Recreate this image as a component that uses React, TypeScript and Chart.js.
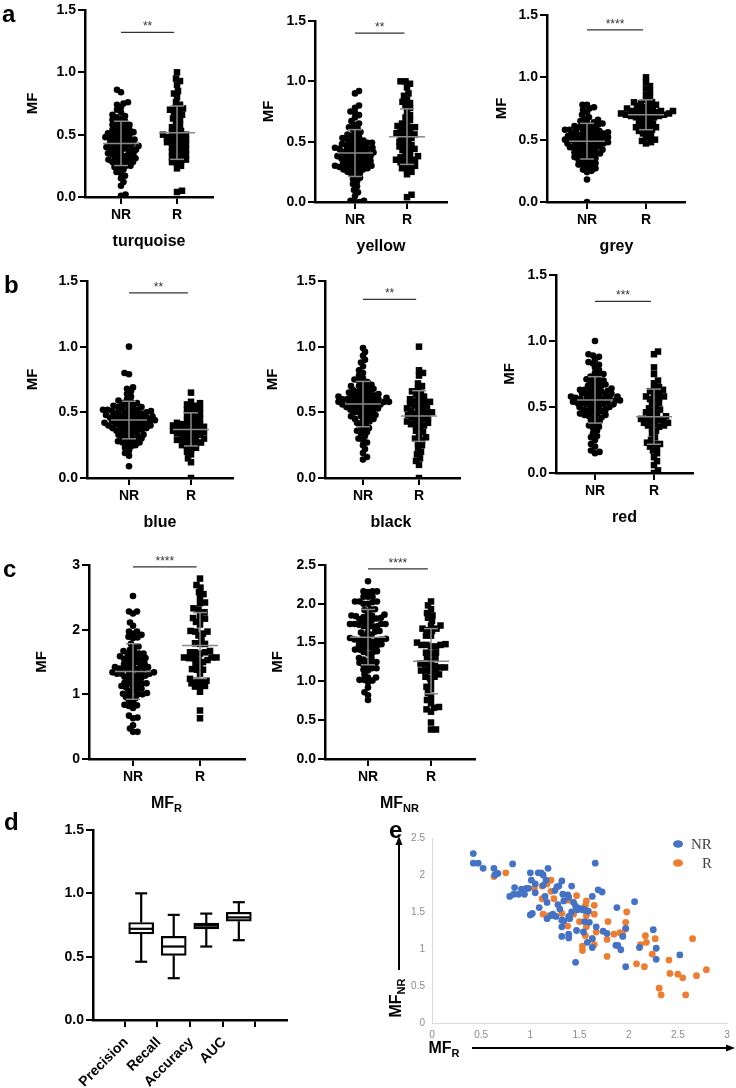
import React, { useEffect, useRef } from "react";
import { Chart, registerables } from "chart.js";

Chart.register(...registerables);
Chart.defaults.color = "#000";

const SANS = "'Liberation Sans', Arial, sans-serif";
const SERIF = "'Liberation Serif', 'Times New Roman', serif";

// ---- module-fraction values per colour module (NR = non-responders, R = responders) ----
const turquoiseNR = [0.01, 0.02, 0.09, 0.12, 0.15, 0.17, 0.19, 0.2, 0.22, 0.23, 0.24, 0.25, 0.25, 0.26, 0.27, 0.28, 0.28, 0.29, 0.29, 0.3, 0.3, 0.31, 0.31, 0.32, 0.33, 0.33, 0.34, 0.34, 0.35, 0.35, 0.36, 0.37, 0.37, 0.38, 0.38, 0.39, 0.39, 0.4, 0.4, 0.41, 0.41, 0.42, 0.42, 0.43, 0.43, 0.44, 0.45, 0.45, 0.46, 0.46, 0.47, 0.47, 0.48, 0.48, 0.49, 0.5, 0.5, 0.51, 0.51, 0.52, 0.52, 0.53, 0.54, 0.54, 0.55, 0.56, 0.57, 0.58, 0.58, 0.59, 0.6, 0.61, 0.62, 0.63, 0.64, 0.65, 0.66, 0.68, 0.7, 0.72, 0.74, 0.75, 0.76, 0.84, 0.86];
const turquoiseR = [0.04, 0.05, 0.23, 0.25, 0.27, 0.28, 0.29, 0.3, 0.31, 0.32, 0.33, 0.34, 0.35, 0.36, 0.37, 0.38, 0.39, 0.4, 0.41, 0.42, 0.43, 0.44, 0.44, 0.45, 0.46, 0.47, 0.48, 0.48, 0.49, 0.5, 0.5, 0.51, 0.52, 0.53, 0.55, 0.56, 0.58, 0.6, 0.62, 0.63, 0.65, 0.66, 0.68, 0.69, 0.7, 0.71, 0.72, 0.74, 0.76, 0.8, 0.83, 0.85, 0.9, 0.93, 0.95, 1.0];

const yellowNR = [0.0, 0.0, 0.01, 0.01, 0.05, 0.08, 0.1, 0.13, 0.15, 0.17, 0.19, 0.2, 0.22, 0.23, 0.24, 0.25, 0.26, 0.27, 0.28, 0.28, 0.29, 0.3, 0.3, 0.31, 0.32, 0.32, 0.33, 0.34, 0.35, 0.35, 0.36, 0.37, 0.38, 0.38, 0.39, 0.4, 0.4, 0.41, 0.42, 0.42, 0.43, 0.44, 0.44, 0.45, 0.46, 0.46, 0.47, 0.48, 0.48, 0.49, 0.5, 0.5, 0.51, 0.52, 0.52, 0.53, 0.54, 0.55, 0.56, 0.57, 0.58, 0.6, 0.61, 0.62, 0.64, 0.65, 0.67, 0.7, 0.72, 0.74, 0.75, 0.78, 0.8, 0.9, 0.92, 0.29, 0.33, 0.36, 0.41, 0.45, 0.39, 0.27, 0.47, 0.31, 0.43, 0.35, 0.49, 0.3, 0.38, 0.44];
const yellowR = [0.04, 0.06, 0.23, 0.25, 0.27, 0.28, 0.3, 0.3, 0.32, 0.33, 0.34, 0.35, 0.35, 0.36, 0.37, 0.38, 0.38, 0.4, 0.42, 0.43, 0.44, 0.45, 0.46, 0.47, 0.48, 0.5, 0.5, 0.52, 0.53, 0.55, 0.55, 0.56, 0.57, 0.58, 0.6, 0.6, 0.62, 0.62, 0.63, 0.65, 0.65, 0.68, 0.7, 0.72, 0.75, 0.78, 0.8, 0.82, 0.83, 0.85, 0.88, 0.9, 0.95, 0.98, 1.0, 1.0];

const greyNR = [0.0, 0.18, 0.24, 0.25, 0.26, 0.28, 0.29, 0.3, 0.31, 0.32, 0.33, 0.34, 0.35, 0.36, 0.37, 0.38, 0.38, 0.39, 0.4, 0.4, 0.41, 0.42, 0.42, 0.43, 0.44, 0.44, 0.45, 0.46, 0.46, 0.47, 0.47, 0.48, 0.48, 0.49, 0.49, 0.5, 0.5, 0.5, 0.51, 0.51, 0.52, 0.52, 0.53, 0.53, 0.54, 0.54, 0.55, 0.55, 0.56, 0.56, 0.57, 0.57, 0.58, 0.58, 0.59, 0.6, 0.6, 0.61, 0.62, 0.62, 0.63, 0.64, 0.65, 0.66, 0.67, 0.68, 0.7, 0.72, 0.74, 0.75, 0.76, 0.78, 0.78, 0.45, 0.48, 0.52, 0.36, 0.42, 0.55, 0.5, 0.47, 0.53, 0.58, 0.44, 0.39, 0.61, 0.64, 0.34, 0.27, 0.3, 0.57];
const greyR = [0.47, 0.48, 0.49, 0.5, 0.52, 0.53, 0.55, 0.56, 0.57, 0.58, 0.59, 0.6, 0.61, 0.62, 0.63, 0.64, 0.65, 0.66, 0.67, 0.68, 0.68, 0.69, 0.69, 0.7, 0.7, 0.7, 0.71, 0.71, 0.72, 0.72, 0.72, 0.73, 0.73, 0.74, 0.74, 0.75, 0.75, 0.76, 0.77, 0.78, 0.78, 0.79, 0.8, 0.8, 0.82, 0.84, 0.86, 0.88, 0.91, 0.93, 0.96, 1.0, 0.71, 0.69, 0.73, 0.6];

const blueNR = [0.09, 0.17, 0.19, 0.21, 0.23, 0.24, 0.25, 0.26, 0.27, 0.28, 0.29, 0.3, 0.31, 0.32, 0.33, 0.34, 0.35, 0.35, 0.36, 0.37, 0.38, 0.38, 0.39, 0.4, 0.4, 0.41, 0.41, 0.42, 0.42, 0.43, 0.43, 0.44, 0.44, 0.45, 0.45, 0.46, 0.46, 0.47, 0.47, 0.48, 0.48, 0.49, 0.49, 0.5, 0.5, 0.51, 0.51, 0.52, 0.52, 0.53, 0.53, 0.54, 0.55, 0.55, 0.56, 0.57, 0.58, 0.59, 0.6, 0.62, 0.64, 0.66, 0.68, 0.69, 0.79, 0.8, 1.0, 0.3, 0.33, 0.37, 0.44, 0.46, 0.5, 0.42, 0.39, 0.28, 0.36, 0.54, 0.47, 0.41, 0.57, 0.32, 0.48, 0.45, 0.27, 0.51, 0.43, 0.38, 0.52, 0.4];
const blueR = [0.0, 0.12, 0.15, 0.18, 0.2, 0.22, 0.23, 0.24, 0.25, 0.26, 0.27, 0.28, 0.29, 0.3, 0.3, 0.31, 0.32, 0.33, 0.33, 0.34, 0.35, 0.35, 0.36, 0.36, 0.37, 0.37, 0.38, 0.38, 0.39, 0.39, 0.4, 0.4, 0.41, 0.42, 0.42, 0.43, 0.44, 0.45, 0.46, 0.47, 0.48, 0.49, 0.5, 0.51, 0.52, 0.53, 0.54, 0.55, 0.56, 0.57, 0.58, 0.65, 0.34, 0.29, 0.41, 0.27];

const blackNR = [0.14, 0.16, 0.19, 0.22, 0.25, 0.27, 0.29, 0.3, 0.32, 0.34, 0.35, 0.37, 0.38, 0.4, 0.41, 0.42, 0.43, 0.44, 0.45, 0.46, 0.47, 0.48, 0.49, 0.5, 0.5, 0.51, 0.52, 0.52, 0.53, 0.54, 0.54, 0.55, 0.55, 0.56, 0.56, 0.57, 0.57, 0.58, 0.58, 0.58, 0.59, 0.59, 0.6, 0.6, 0.61, 0.61, 0.62, 0.62, 0.63, 0.63, 0.64, 0.64, 0.65, 0.66, 0.66, 0.67, 0.68, 0.69, 0.7, 0.7, 0.71, 0.72, 0.73, 0.74, 0.75, 0.76, 0.78, 0.8, 0.82, 0.85, 0.88, 0.9, 0.93, 0.96, 0.99, 0.57, 0.6, 0.55, 0.48, 0.62, 0.65, 0.52, 0.45, 0.58, 0.68, 0.36, 0.59, 0.53, 0.61, 0.56, 0.47];
const blackR = [0.0, 0.1, 0.13, 0.15, 0.18, 0.2, 0.23, 0.25, 0.27, 0.29, 0.3, 0.31, 0.33, 0.35, 0.36, 0.38, 0.4, 0.4, 0.41, 0.42, 0.43, 0.44, 0.45, 0.46, 0.47, 0.48, 0.49, 0.5, 0.5, 0.51, 0.52, 0.53, 0.54, 0.55, 0.56, 0.57, 0.58, 0.59, 0.6, 0.61, 0.62, 0.64, 0.65, 0.66, 0.68, 0.7, 0.72, 0.78, 0.8, 0.82, 1.0, 0.42, 0.5, 0.58, 0.46, 0.55];

const redNR = [0.15, 0.16, 0.17, 0.2, 0.22, 0.25, 0.28, 0.3, 0.32, 0.34, 0.36, 0.38, 0.39, 0.4, 0.42, 0.43, 0.44, 0.45, 0.46, 0.47, 0.48, 0.49, 0.5, 0.5, 0.51, 0.52, 0.52, 0.53, 0.53, 0.54, 0.54, 0.55, 0.55, 0.56, 0.56, 0.57, 0.57, 0.58, 0.58, 0.59, 0.59, 0.6, 0.6, 0.61, 0.62, 0.62, 0.63, 0.64, 0.64, 0.65, 0.66, 0.67, 0.68, 0.69, 0.7, 0.71, 0.72, 0.73, 0.74, 0.75, 0.76, 0.78, 0.8, 0.82, 0.83, 0.84, 0.86, 0.88, 0.89, 0.9, 1.0, 0.55, 0.5, 0.48, 0.57, 0.53, 0.6, 0.45, 0.62, 0.35, 0.42, 0.66, 0.52, 0.58, 0.27, 0.47, 0.7, 0.44, 0.54, 0.63, 0.56];
const redR = [0.0, 0.02, 0.06, 0.09, 0.12, 0.15, 0.17, 0.19, 0.2, 0.22, 0.23, 0.25, 0.27, 0.3, 0.32, 0.34, 0.35, 0.36, 0.37, 0.38, 0.39, 0.4, 0.4, 0.41, 0.42, 0.43, 0.44, 0.45, 0.46, 0.47, 0.48, 0.49, 0.5, 0.52, 0.53, 0.55, 0.56, 0.57, 0.58, 0.6, 0.61, 0.62, 0.63, 0.64, 0.65, 0.68, 0.7, 0.75, 0.8, 0.9, 0.92, 0.38, 0.22, 0.41, 0.58, 0.36];

// ---- paired MF_R / MF_NR scores per patient ----
const nrMFR = [0.42, 0.42, 0.47, 0.52, 0.63, 0.67, 0.64, 0.82, 0.79, 0.83, 0.84, 0.88, 0.91, 0.94, 0.96, 0.98, 1.0, 1.01, 1.05, 1.05, 1.08, 1.11, 1.13, 1.18, 1.16, 1.13, 1.15, 1.17, 1.0, 1.02, 1.09, 1.17, 1.21, 1.23, 1.26, 1.25, 1.27, 1.29, 1.32, 1.28, 1.3, 1.32, 1.32, 1.32, 1.34, 1.33, 1.38, 1.39, 1.42, 1.39, 1.4, 1.39, 1.39, 1.42, 1.44, 1.46, 1.47, 1.46, 1.48, 1.5, 1.53, 1.54, 1.54, 1.55, 1.56, 1.58, 1.59, 1.6, 1.63, 1.63, 1.63, 1.66, 1.67, 1.69, 1.73, 1.74, 1.78, 1.88, 1.87, 1.89, 1.92, 1.94, 1.97, 1.97, 2.06, 2.11, 2.25, 2.28, 2.28, 2.52, 1.34];
const nrMFNR = [2.29, 2.16, 2.16, 2.09, 2.09, 2.02, 2.0, 2.15, 1.71, 1.74, 1.83, 1.74, 1.81, 1.74, 1.82, 1.82, 2.03, 1.93, 1.88, 1.76, 2.03, 2.03, 2.0, 2.09, 1.93, 1.86, 1.71, 1.63, 1.46, 1.48, 1.56, 1.41, 1.45, 1.47, 1.44, 1.79, 1.84, 1.85, 1.92, 1.6, 1.54, 1.3, 1.17, 1.39, 1.38, 1.74, 1.73, 1.7, 1.85, 1.44, 1.41, 1.2, 1.15, 1.5, 1.63, 1.58, 1.25, 0.82, 1.53, 1.55, 1.53, 1.54, 1.23, 1.37, 1.52, 1.09, 1.51, 1.36, 1.14, 1.02, 1.71, 2.16, 1.3, 1.8, 1.77, 1.24, 1.21, 1.56, 1.05, 1.05, 0.99, 1.17, 1.28, 0.76, 1.64, 1.02, 1.26, 1.01, 0.86, 0.92, 1.65];
const rMFR = [0.63, 0.75, 1.04, 1.12, 1.12, 1.13, 1.17, 1.19, 1.21, 1.21, 1.24, 1.32, 1.38, 1.39, 1.38, 1.44, 1.47, 1.5, 1.53, 1.53, 1.56, 1.57, 1.56, 1.57, 1.57, 1.63, 1.65, 1.65, 1.65, 1.67, 1.79, 1.78, 1.78, 1.85, 1.91, 1.94, 1.97, 1.97, 1.98, 2.08, 2.12, 2.16, 2.17, 2.18, 2.24, 2.27, 2.31, 2.33, 2.41, 2.42, 2.5, 2.55, 2.58, 2.65, 2.69, 2.79];
const rMFNR = [1.98, 2.03, 1.82, 1.68, 1.85, 1.47, 1.88, 1.45, 1.93, 1.78, 1.68, 1.48, 1.72, 1.66, 1.31, 1.47, 1.72, 1.37, 1.04, 0.98, 1.18, 1.65, 1.59, 1.3, 1.45, 1.14, 1.59, 1.47, 1.06, 1.23, 1.37, 1.13, 0.9, 1.2, 1.22, 1.19, 1.36, 1.27, 1.5, 0.8, 1.06, 0.76, 1.18, 1.09, 0.93, 1.14, 0.47, 0.38, 0.85, 0.67, 0.66, 0.61, 0.38, 1.14, 0.64, 0.72];

// ---- classifier performance summary (box plot) ----
const boxLabels = ["Precision", "Recall", "Accuracy", "AUC"];
const boxMin = [0.46, 0.33, 0.58, 0.63];
const boxQ1 = [0.68, 0.51, 0.72, 0.78];
const boxMedian = [0.72, 0.58, 0.745, 0.81];
const boxQ3 = [0.77, 0.66, 0.765, 0.85];
const boxMax = [1.0, 0.83, 0.84, 0.93];

const groupLabels = ["NR", "R"];

type DotSpec = {
  nr: number[];
  r: number[];
  x0: number;
  x1: number;
  nrX: number;
  rX: number;
  yTop: number;
  yBottom: number;
  yMax: number;
  step: number;
  dec: number;
  sig: string;
  sigY: number;
  mfOff: number;
  title: string;
  sub?: string;
};

const dotPanels: DotSpec[] = [
  { nr: turquoiseNR, r: turquoiseR, x0: 85, x1: 213, nrX: 121, rX: 177, yTop: 10, yBottom: 197, yMax: 1.5, step: 0.5, dec: 1, sig: "**", sigY: 1.32, mfOff: 52, title: "turquoise" },
  { nr: yellowNR, r: yellowR, x0: 315, x1: 447, nrX: 355, rX: 407, yTop: 21, yBottom: 202, yMax: 1.5, step: 0.5, dec: 1, sig: "**", sigY: 1.4, mfOff: 46, title: "yellow" },
  { nr: greyNR, r: greyR, x0: 547, x1: 685, nrX: 587, rX: 646, yTop: 15, yBottom: 202, yMax: 1.5, step: 0.5, dec: 1, sig: "****", sigY: 1.38, mfOff: 45, title: "grey" },
  { nr: blueNR, r: blueR, x0: 87, x1: 233, nrX: 129, rX: 191, yTop: 281, yBottom: 478, yMax: 1.5, step: 0.5, dec: 1, sig: "**", sigY: 1.41, mfOff: 54, title: "blue" },
  { nr: blackNR, r: blackR, x0: 325, x1: 460, nrX: 363, rX: 419, yTop: 281, yBottom: 478, yMax: 1.5, step: 0.5, dec: 1, sig: "**", sigY: 1.36, mfOff: 52, title: "black" },
  { nr: redNR, r: redR, x0: 556, x1: 693, nrX: 595, rX: 654, yTop: 275, yBottom: 473, yMax: 1.5, step: 0.5, dec: 1, sig: "***", sigY: 1.3, mfOff: 46, title: "red" },
  { nr: nrMFR, r: rMFR, x0: 89, x1: 245, nrX: 133, rX: 200, yTop: 565, yBottom: 759, yMax: 3, step: 1, dec: 0, sig: "****", sigY: 2.97, mfOff: 47, title: "MF", sub: "R" },
  { nr: nrMFNR, r: rMFNR, x0: 325, x1: 475, nrX: 368, rX: 431, yTop: 565, yBottom: 759, yMax: 2.5, step: 0.5, dec: 1, sig: "****", sigY: 2.45, mfOff: 47, title: "MF", sub: "NR" },
];

// Beeswarm layout: horizontal offsets (in px) so markers do not pile up.
function swarm(values: number[], center: number, pxPerX: number, pxPerY: number, dist: number) {
  const order = values.map((v, i) => ({ v, i })).sort((a, b) => a.v - b.v);
  const placed: { x: number; y: number }[] = [];
  const out: { x: number; y: number }[] = new Array(values.length);
  order.forEach(({ v, i }, k) => {
    const y = v * pxPerY;
    const sign = k % 2 === 0 ? 1 : -1;
    let best = 0;
    for (let s = 0; s < 240; s++) {
      const off = (s % 2 === 0 ? sign : -sign) * Math.ceil(s / 2) * 0.5;
      let ok = true;
      for (const p of placed) {
        if (Math.abs(p.y - y) < dist && (p.x - off) ** 2 + (p.y - y) ** 2 < dist * dist) {
          ok = false;
          break;
        }
      }
      if (ok) {
        best = off;
        break;
      }
    }
    placed.push({ x: best, y });
    out[i] = { x: center + best / pxPerX, y: v };
  });
  return out;
}

function meanSd(values: number[]) {
  const m = values.reduce((a, b) => a + b, 0) / values.length;
  const v = values.reduce((a, b) => a + (b - m) ** 2, 0) / (values.length - 1);
  return { mean: m, sd: Math.sqrt(v) };
}

function drawSubText(ctx: CanvasRenderingContext2D, main: string, sub: string | undefined, cx: number, cy: number, size: number) {
  ctx.font = `bold ${size}px ${SANS}`;
  const w1 = ctx.measureText(main).width;
  ctx.font = `bold ${Math.round(size * 0.7)}px ${SANS}`;
  const w2 = sub ? ctx.measureText(sub).width : 0;
  const start = cx - (w1 + w2) / 2;
  ctx.textAlign = "left";
  ctx.textBaseline = "middle";
  ctx.font = `bold ${size}px ${SANS}`;
  ctx.fillText(main, start, cy);
  if (sub) {
    ctx.font = `bold ${Math.round(size * 0.7)}px ${SANS}`;
    ctx.fillText(sub, start + w1, cy + size * 0.3);
  }
}

const PAD_L = 72;
const PAD_T = 22;
const PAD_R = 12;
const PAD_B = 64;

function DotPanel({ spec }: { spec: DotSpec }) {
  const ref = useRef<HTMLCanvasElement>(null);
  const w = spec.x1 - spec.x0 + PAD_L + PAD_R;
  const h = spec.yBottom - spec.yTop + PAD_T + PAD_B;
  useEffect(() => {
    const s = spec;
    const unit = s.rX - s.nrX;
    const xMin = 1 - (s.nrX - s.x0) / unit;
    const xMax = 2 + (s.x1 - s.rX) / unit;
    const pxPerY = (s.yBottom - s.yTop) / s.yMax;
    const nrPts = swarm(s.nr, 1, unit, pxPerY, 4.4);
    const rPts = swarm(s.r, 2, unit, pxPerY, 4.7);
    const tickFont = { family: SANS, size: 14, weight: "bold" as const };

    const overlay = {
      id: "dotOverlay",
      afterDatasetsDraw(chart: any) {
        const { ctx, chartArea } = chart;
        const x = chart.scales.x;
        const y = chart.scales.y;
        ctx.save();
        // mean ± SD
        ctx.strokeStyle = "#8a8a8a";
        ctx.lineWidth = 1.5;
        const seg = (a: number, b: number, c: number, d: number) => {
          ctx.beginPath();
          ctx.moveTo(a, b);
          ctx.lineTo(c, d);
          ctx.stroke();
        };
        [
          [s.nr, 1],
          [s.r, 2],
        ].forEach(([vals, pos]: any) => {
          const { mean, sd } = meanSd(vals);
          const cx = x.getPixelForValue(pos);
          const ym = y.getPixelForValue(mean);
          const yl = y.getPixelForValue(Math.max(mean - sd, 0));
          const yh = y.getPixelForValue(mean + sd);
          seg(cx - 18, ym, cx + 18, ym);
          seg(cx, yl, cx, yh);
          seg(cx - 7, yl, cx + 7, yl);
          seg(cx - 7, yh, cx + 7, yh);
        });
        // significance bracket
        const sy = y.getPixelForValue(s.sigY);
        ctx.strokeStyle = "#333";
        ctx.lineWidth = 1.2;
        seg(x.getPixelForValue(1), sy, x.getPixelForValue(1.95), sy);
        ctx.fillStyle = "#333";
        ctx.font = `12px ${SANS}`;
        ctx.textAlign = "center";
        ctx.textBaseline = "alphabetic";
        ctx.fillText(s.sig, x.getPixelForValue(1.475), sy - 2);
        // y axis title
        ctx.fillStyle = "#000";
        ctx.save();
        ctx.translate(chartArea.left - s.mfOff, (chartArea.top + chartArea.bottom) / 2);
        ctx.rotate(-Math.PI / 2);
        ctx.font = `bold 15px ${SANS}`;
        ctx.textAlign = "center";
        ctx.textBaseline = "middle";
        ctx.fillText("MF", 0, 0);
        ctx.restore();
        // module title under the axis
        const cx = (x.getPixelForValue(1) + x.getPixelForValue(2)) / 2;
        drawSubText(ctx, s.title, s.sub, cx, chartArea.bottom + 45, 16);
        ctx.restore();
      },
    };

    const chart = new Chart(ref.current!, {
      type: "scatter",
      data: {
        datasets: [
          { data: nrPts, pointStyle: "circle", pointRadius: 3.3, backgroundColor: "#000", borderWidth: 0 },
          { data: rPts, pointStyle: "rect", pointRadius: 4.6, backgroundColor: "#000", borderWidth: 0 },
        ],
      },
      options: {
        animation: false,
        responsive: false,
        events: [],
        layout: { padding: { left: 0, top: PAD_T, right: PAD_R, bottom: 0 } },
        plugins: { legend: { display: false }, tooltip: { enabled: false } },
        scales: {
          x: {
            type: "linear",
            min: xMin,
            max: xMax,
            afterBuildTicks: (sc: any) => {
              sc.ticks = [{ value: 1 }, { value: 2 }];
            },
            ticks: { callback: (v: any) => (v === 1 ? groupLabels[0] : groupLabels[1]), font: tickFont, color: "#000", padding: 3, maxRotation: 0, autoSkip: false },
            grid: { drawOnChartArea: false, drawTicks: true, tickLength: 7, color: "#000", lineWidth: 2 },
            border: { color: "#000", width: 2.5 },
            afterFit: (sc: any) => {
              sc.height = PAD_B;
            },
          },
          y: {
            type: "linear",
            min: 0,
            max: s.yMax,
            ticks: { stepSize: s.step, callback: (v: any) => Number(v).toFixed(s.dec), font: tickFont, color: "#000", padding: 2 },
            grid: { drawOnChartArea: false, drawTicks: true, tickLength: 7, color: "#000", lineWidth: 2 },
            border: { color: "#000", width: 2.5 },
            afterFit: (sc: any) => {
              sc.width = PAD_L;
            },
          },
        },
      },
      plugins: [overlay],
    } as any);
    return () => chart.destroy();
  }, [spec]);
  return <canvas ref={ref} width={w} height={h} style={{ position: "absolute", left: spec.x0 - PAD_L, top: spec.yTop - PAD_T, width: w, height: h }} />;
}

function BoxPanel() {
  const ref = useRef<HTMLCanvasElement>(null);
  const W = 300;
  const H = 273;
  useEffect(() => {
    const tickFont = { family: SANS, size: 14, weight: "bold" as const };
    const whiskers = {
      id: "whiskers",
      afterDatasetsDraw(chart: any) {
        const { ctx } = chart;
        const x = chart.scales.x;
        const y = chart.scales.y;
        ctx.save();
        ctx.strokeStyle = "#000";
        ctx.lineWidth = 2.2;
        const seg = (a: number, b: number, c: number, d: number) => {
          ctx.beginPath();
          ctx.moveTo(a, b);
          ctx.lineTo(c, d);
          ctx.stroke();
        };
        boxLabels.forEach((_, i) => {
          const cx = x.getPixelForValue(i);
          seg(cx, y.getPixelForValue(boxMin[i]), cx, y.getPixelForValue(boxQ1[i]));
          seg(cx, y.getPixelForValue(boxQ3[i]), cx, y.getPixelForValue(boxMax[i]));
          seg(cx - 6, y.getPixelForValue(boxMin[i]), cx + 6, y.getPixelForValue(boxMin[i]));
          seg(cx - 6, y.getPixelForValue(boxMax[i]), cx + 6, y.getPixelForValue(boxMax[i]));
          seg(cx - 11, y.getPixelForValue(boxMedian[i]), cx + 11, y.getPixelForValue(boxMedian[i]));
        });
        ctx.restore();
      },
    };
    const chart = new Chart(ref.current!, {
      type: "bar",
      data: {
        datasets: [
          {
            data: boxLabels.map((_, i) => ({ x: i, y: [boxQ1[i], boxQ3[i]] })),
            backgroundColor: "#fff",
            borderColor: "#000",
            borderWidth: 2.2,
            borderSkipped: false,
            barThickness: 25,
          },
        ],
      },
      options: {
        animation: false,
        responsive: false,
        events: [],
        layout: { padding: { left: 0, top: 15, right: 13, bottom: 0 } },
        plugins: { legend: { display: false }, tooltip: { enabled: false } },
        scales: {
          x: {
            type: "linear",
            min: -0.735,
            max: 3.735,
            afterBuildTicks: (sc: any) => {
              sc.ticks = boxLabels.map((_, i) => ({ value: i }));
            },
            ticks: { callback: (v: any) => boxLabels[v], font: tickFont, color: "#000", padding: 7, labelOffset: -15, minRotation: 45, maxRotation: 45, autoSkip: false },
            grid: { drawOnChartArea: false, drawTicks: true, tickLength: 7, color: "#000", lineWidth: 2 },
            border: { color: "#000", width: 2.5 },
            afterFit: (sc: any) => {
              sc.height = 68;
            },
          },
          y: {
            type: "linear",
            min: 0,
            max: 1.5,
            ticks: { stepSize: 0.5, callback: (v: any) => Number(v).toFixed(1), font: tickFont, color: "#000", padding: 2 },
            grid: { drawOnChartArea: false, drawTicks: true, tickLength: 7, color: "#000", lineWidth: 2 },
            border: { color: "#000", width: 2.5 },
            afterFit: (sc: any) => {
              sc.width = 93;
            },
          },
        },
      },
      plugins: [whiskers],
    } as any);
    return () => chart.destroy();
  }, []);
  return <canvas ref={ref} width={W} height={H} style={{ position: "absolute", left: 0, top: 815, width: W, height: H }} />;
}

function ScatterPanel() {
  const ref = useRef<HTMLCanvasElement>(null);
  const W = 356;
  const H = 268;
  useEffect(() => {
    const BLUE = "#4472C4";
    const ORANGE = "#ED7D31";
    const extras = {
      id: "extras",
      afterDraw(chart: any) {
        const { ctx } = chart;
        ctx.save();
        ctx.strokeStyle = "#000";
        ctx.fillStyle = "#000";
        ctx.lineWidth = 2;
        // vertical arrow
        ctx.beginPath();
        ctx.moveTo(19, 150);
        ctx.lineTo(19, 24);
        ctx.stroke();
        ctx.beginPath();
        ctx.moveTo(19, 16);
        ctx.lineTo(15.5, 25);
        ctx.lineTo(22.5, 25);
        ctx.closePath();
        ctx.fill();
        // horizontal arrow
        ctx.beginPath();
        ctx.moveTo(92, 228);
        ctx.lineTo(347, 228);
        ctx.stroke();
        ctx.beginPath();
        ctx.moveTo(355, 228);
        ctx.lineTo(346, 224.5);
        ctx.lineTo(346, 231.5);
        ctx.closePath();
        ctx.fill();
        // axis names
        drawSubText(ctx, "MF", "R", 64, 229, 16);
        ctx.save();
        ctx.translate(17, 178);
        ctx.rotate(-Math.PI / 2);
        drawSubText(ctx, "MF", "NR", 0, 0, 16);
        ctx.restore();
        // legend
        const items = [
          { label: "NR", color: BLUE, y: 24, tx: 311 },
          { label: "R", color: ORANGE, y: 43, tx: 322 },
        ];
        items.forEach((it) => {
          ctx.fillStyle = it.color;
          ctx.beginPath();
          ctx.ellipse(298, it.y, 5, 3.8, 0, 0, Math.PI * 2);
          ctx.fill();
          ctx.fillStyle = "#404040";
          ctx.font = `15px ${SERIF}`;
          ctx.textAlign = "left";
          ctx.textBaseline = "middle";
          ctx.fillText(it.label, it.tx, it.y + 1);
        });
        ctx.restore();
      },
    };
    const tickFont = { family: SANS, size: 10 };
    const plain = (v: any) => String(Number(v));
    const chart = new Chart(ref.current!, {
      type: "scatter",
      data: {
        datasets: [
          { label: "NR", data: nrMFR.map((v, i) => ({ x: v, y: nrMFNR[i] })), backgroundColor: BLUE, pointRadius: 3.4, borderWidth: 0 },
          { label: "R", data: rMFR.map((v, i) => ({ x: v, y: rMFNR[i] })), backgroundColor: ORANGE, pointRadius: 3.4, borderWidth: 0 },
        ],
      },
      options: {
        animation: false,
        responsive: false,
        events: [],
        layout: { padding: { left: 0, top: 18, right: 9, bottom: 0 } },
        plugins: { legend: { display: false }, tooltip: { enabled: false } },
        scales: {
          x: {
            type: "linear",
            min: 0,
            max: 3,
            ticks: { stepSize: 0.5, font: tickFont, color: "#8c8c8c", padding: 6, callback: plain },
            grid: { drawOnChartArea: false, drawTicks: false },
            border: { color: "#d9d9d9", width: 1 },
            afterFit: (sc: any) => {
              sc.height = 65;
            },
          },
          y: {
            type: "linear",
            min: 0,
            max: 2.5,
            ticks: { stepSize: 0.5, font: tickFont, color: "#8c8c8c", padding: 7, callback: plain },
            grid: { drawOnChartArea: false, drawTicks: false },
            border: { color: "#d9d9d9", width: 1 },
            afterFit: (sc: any) => {
              sc.width = 52;
            },
          },
        },
      },
      plugins: [extras],
    } as any);
    return () => chart.destroy();
  }, []);
  return <canvas ref={ref} width={W} height={H} style={{ position: "absolute", left: 380, top: 820, width: W, height: H }} />;
}

const letters = [
  { t: "a", left: 2, top: 2 },
  { t: "b", left: 4, top: 273 },
  { t: "c", left: 3, top: 557 },
  { t: "d", left: 4, top: 810 },
  { t: "e", left: 389, top: 818 },
];

export default function App() {
  return (
    <div style={{ position: "absolute", left: 0, top: 0, width: 736, height: 1088, background: "#fff", overflow: "hidden" }}>
      {dotPanels.map((p, i) => (
        <DotPanel key={i} spec={p} />
      ))}
      <BoxPanel />
      <ScatterPanel />
      {letters.map((l) => (
        <div key={l.t} style={{ position: "absolute", left: l.left, top: l.top, font: `bold 24px ${SANS}`, lineHeight: "24px", color: "#000" }}>
          {l.t}
        </div>
      ))}
    </div>
  );
}
